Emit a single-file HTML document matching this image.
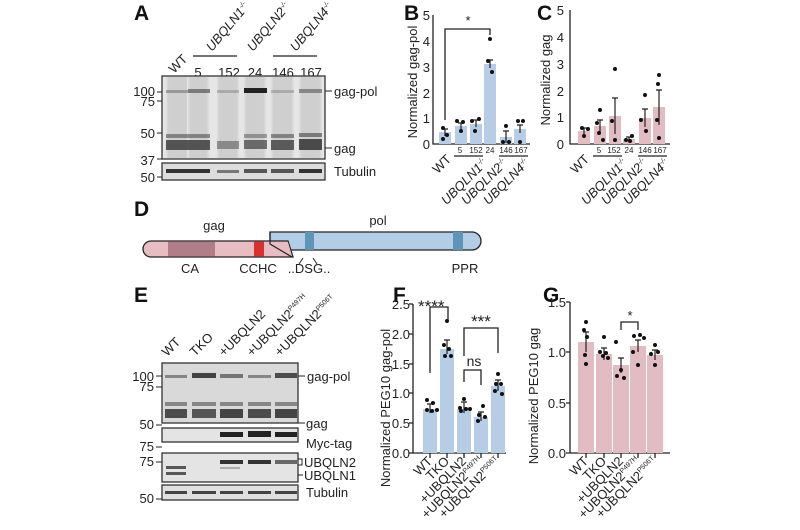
<!DOCTYPE html>
<html><head><meta charset="utf-8"><style>
html,body{margin:0;padding:0;background:#fff}
svg{display:block;font-family:"Liberation Sans",Arial,sans-serif}
.t{font-size:13px;fill:#222}
.s{font-size:8px;fill:#222}
.L{font-size:21px;font-weight:bold;fill:#111}
.ax{stroke:#222;stroke-width:1.3;fill:none}
.bb{fill:#b7cde5}
.pb{fill:#e2bcc3}
.eb{stroke:#222;stroke-width:1.2;fill:none}
.d{fill:#111}
</style></head><body>
<svg width="800" height="530" viewBox="0 0 800 530">
<defs>
<linearGradient id="lane" x1="0" x2="1"><stop offset="0" stop-color="#e8e8e8"/><stop offset="0.15" stop-color="#cfcfcf"/><stop offset="0.85" stop-color="#cfcfcf"/><stop offset="1" stop-color="#e8e8e8"/></linearGradient>
</defs>
<text class="L" x="134" y="20">A</text>
<text class="L" x="404" y="20">B</text>
<text class="L" x="537" y="20">C</text>
<text class="L" x="134" y="216">D</text>
<text class="L" x="134" y="302">E</text>
<text class="L" x="393" y="302">F</text>
<text class="L" x="543" y="302">G</text>

<!-- ===== A ===== -->
<g class="t">
<text transform="rotate(-45 174 74)" x="174" y="74">WT</text>
<text transform="rotate(-50 212 52)" x="212" y="52" font-style="italic">UBQLN1<tspan font-size="7" dy="-5">-/-</tspan></text>
<text transform="rotate(-50 253 52)" x="253" y="52" font-style="italic">UBQLN2<tspan font-size="7" dy="-5">-/-</tspan></text>
<text transform="rotate(-50 296 52)" x="296" y="52" font-style="italic">UBQLN4<tspan font-size="7" dy="-5">-/-</tspan></text>
<text x="198" y="77" text-anchor="middle">5</text>
<text x="229" y="77" text-anchor="middle">152</text>
<text x="255" y="77" text-anchor="middle">24</text>
<text x="283" y="77" text-anchor="middle">146</text>
<text x="311" y="77" text-anchor="middle">167</text>
</g>
<line x1="193" y1="56" x2="237" y2="56" stroke="#222" stroke-width="1.2"/>
<line x1="273" y1="56" x2="317" y2="56" stroke="#222" stroke-width="1.2"/>
<rect x="162" y="76" width="163" height="83" fill="#e6e6e6" stroke="#333" stroke-width="1.3"/>
<g fill="url(#lane)">
<rect x="165" y="77" width="25" height="81"/><rect x="187" y="77" width="23" height="81"/><rect x="216" y="77" width="24" height="81"/><rect x="243" y="77" width="24" height="81"/><rect x="270" y="77" width="25" height="81"/><rect x="298" y="77" width="25" height="81"/>
</g>
<g fill="#555">
<rect x="166" y="90" width="22" height="3" opacity=".45"/><rect x="188" y="89" width="22" height="4" opacity=".7"/><rect x="217" y="90" width="22" height="3" opacity=".3"/><rect x="244" y="88" width="23" height="5" fill="#222"/><rect x="271" y="90" width="23" height="3" opacity=".3"/><rect x="299" y="89" width="23" height="4" opacity=".6"/>
</g>
<g fill="#333">
<rect x="166" y="134" width="22" height="4" opacity=".5"/><rect x="188" y="134" width="22" height="4" opacity=".5"/><rect x="244" y="134" width="23" height="4" opacity=".4"/><rect x="271" y="134" width="23" height="4" opacity=".5"/><rect x="299" y="133" width="23" height="4" opacity=".55"/>
<rect x="166" y="140" width="22" height="10" opacity=".8"/><rect x="188" y="140" width="22" height="10" opacity=".8"/><rect x="217" y="141" width="22" height="8" opacity=".45"/><rect x="244" y="140" width="23" height="9" opacity=".65"/><rect x="271" y="140" width="23" height="10" opacity=".75"/><rect x="299" y="139" width="23" height="11" opacity=".85"/>
</g>
<rect x="162" y="163" width="163" height="17" fill="#ddd" stroke="#333" stroke-width="1.3"/>
<g fill="#333"><rect x="166" y="169" width="22" height="4"/><rect x="188" y="169" width="22" height="4"/><rect x="217" y="170" width="22" height="3" opacity=".6"/><rect x="244" y="169" width="23" height="4" opacity=".8"/><rect x="271" y="169" width="23" height="4" opacity=".8"/><rect x="299" y="169" width="23" height="4"/></g>
<g class="t" text-anchor="end" font-size="13">
<text x="155" y="96">100</text><text x="155" y="106">75</text><text x="155" y="138">50</text><text x="155" y="165">37</text><text x="155" y="182">50</text>
</g>
<g stroke="#222" stroke-width="1"><line x1="157" y1="92" x2="162" y2="92"/><line x1="157" y1="101" x2="162" y2="101"/><line x1="157" y1="133" x2="162" y2="133"/><line x1="157" y1="159" x2="162" y2="159"/><line x1="157" y1="177" x2="162" y2="177"/>
<line x1="325" y1="91" x2="332" y2="91"/><line x1="325" y1="148" x2="332" y2="148"/></g>
<g class="t"><text x="334" y="96">gag-pol</text><text x="334" y="153">gag</text><text x="334" y="176">Tubulin</text></g>

<!-- ===== B ===== -->
<text class="t" transform="rotate(-90 417 82)" x="417" y="82" text-anchor="middle" font-size="14">Normalized gag-pol</text>
<g class="t" text-anchor="end" font-size="14"><text x="430" y="20">5</text><text x="430" y="46">4</text><text x="430" y="72">3</text><text x="430" y="98">2</text><text x="430" y="123">1</text><text x="430" y="149">0</text></g>
<path class="ax" d="M433 15 V144 H530"/>
<rect class="bb" x="439" y="132" width="12" height="12"/><rect class="bb" x="455" y="126" width="12" height="18"/><rect class="bb" x="470" y="124" width="12" height="20"/><rect class="bb" x="484" y="64" width="12" height="80"/><rect class="bb" x="500" y="137" width="12" height="7"/><rect class="bb" x="514" y="129" width="12" height="15"/>
<path class="eb" d="M445 129v7m-3-7h6 M461 123v7m-3-7h6 M476 120v7m-3-7h6 M490 60v8m-3-8h6 M506 131v12m-3-12h6 M520 125v8m-3-8h6"/>
<g class="d"><circle cx="443" cy="128" r="2"/><circle cx="447" cy="135" r="2"/><circle cx="443" cy="139" r="2"/><circle cx="457" cy="121" r="2"/><circle cx="463" cy="122" r="2"/><circle cx="461" cy="131" r="2"/><circle cx="472" cy="121" r="2"/><circle cx="479" cy="119" r="2"/><circle cx="475" cy="131" r="2"/><circle cx="490" cy="39" r="2"/><circle cx="488" cy="61" r="2"/><circle cx="492" cy="72" r="2"/><circle cx="506" cy="126" r="2"/><circle cx="503" cy="142" r="2"/><circle cx="509" cy="142" r="2"/><circle cx="518" cy="121" r="2"/><circle cx="523" cy="121" r="2"/><circle cx="520" cy="142" r="2"/></g>
<path class="ax" d="M445 120V29H490V35"/><text class="t" x="468" y="25" text-anchor="middle" font-size="17">*</text>
<g class="s" text-anchor="middle"><text x="460" y="153">5</text><text x="476" y="153">152</text><text x="490" y="153">24</text><text x="506" y="153">146</text><text x="521" y="153">167</text></g>
<path class="ax" d="M454 156H483 M499 156H528" stroke-width="1"/>
<g class="t" font-style="italic" text-anchor="end" font-size="13">
<text transform="rotate(-45 452 160)" x="452" y="160" font-style="normal">WT</text>
<text transform="rotate(-45 488 164)" x="488" y="164">UBQLN1<tspan font-size="7" dy="-5">-/-</tspan></text>
<text transform="rotate(-45 508 164)" x="508" y="164">UBQLN2<tspan font-size="7" dy="-5">-/-</tspan></text>
<text transform="rotate(-45 530 164)" x="530" y="164">UBQLN4<tspan font-size="7" dy="-5">-/-</tspan></text>
</g>

<!-- ===== C ===== -->
<text class="t" transform="rotate(-90 550 80)" x="550" y="80" text-anchor="middle" font-size="14">Normalized gag</text>
<g class="t" text-anchor="end" font-size="14"><text x="564" y="15">5</text><text x="564" y="42">4</text><text x="564" y="69">3</text><text x="564" y="96">2</text><text x="564" y="122">1</text><text x="564" y="149">0</text></g>
<path class="ax" d="M570 10 V144 H670"/>
<rect class="pb" x="578" y="131" width="12" height="13"/><rect class="pb" x="594" y="126" width="12" height="18"/><rect class="pb" x="609" y="116" width="12" height="28"/><rect class="pb" x="623" y="139" width="12" height="5"/><rect class="pb" x="639" y="118" width="12" height="26"/><rect class="pb" x="653" y="107" width="12" height="37"/>
<path class="eb" d="M584 128v7m-3-7h6 M600 120v12m-3-12h6 M615 98v36m-3-36h6 M629 137v4m-3-4h6 M645 109v18m-3-18h6 M659 90v35m-3-35h6"/>
<g class="d"><circle cx="582" cy="128" r="2"/><circle cx="588" cy="129" r="2"/><circle cx="584" cy="136" r="2"/><circle cx="600" cy="110" r="2"/><circle cx="597" cy="123" r="2"/><circle cx="599" cy="133" r="2"/><circle cx="603" cy="140" r="2"/><circle cx="615" cy="69" r="2"/><circle cx="612" cy="121" r="2"/><circle cx="615" cy="140" r="2"/><circle cx="626" cy="140" r="2"/><circle cx="632" cy="136" r="2"/><circle cx="630" cy="141" r="2"/><circle cx="645" cy="95" r="2"/><circle cx="641" cy="120" r="2"/><circle cx="646" cy="131" r="2"/><circle cx="659" cy="75" r="2"/><circle cx="658" cy="84" r="2"/><circle cx="657" cy="120" r="2"/><circle cx="659" cy="138" r="2"/></g>
<g class="s" text-anchor="middle"><text x="599" y="153">5</text><text x="614" y="153">152</text><text x="629" y="153">24</text><text x="645" y="153">146</text><text x="660" y="153">167</text></g>
<path class="ax" d="M593 156H622 M638 156H667" stroke-width="1"/>
<g class="t" font-style="italic" text-anchor="end" font-size="13">
<text transform="rotate(-45 590 160)" x="590" y="160" font-style="normal">WT</text>
<text transform="rotate(-45 628 164)" x="628" y="164">UBQLN1<tspan font-size="7" dy="-5">-/-</tspan></text>
<text transform="rotate(-45 648 164)" x="648" y="164">UBQLN2<tspan font-size="7" dy="-5">-/-</tspan></text>
<text transform="rotate(-45 670 164)" x="670" y="164">UBQLN4<tspan font-size="7" dy="-5">-/-</tspan></text>
</g>

<!-- ===== D ===== -->
<path d="M270 232 H472 a9 9 0 0 1 0 18 H290 L270 250 Z" fill="#b3cde6" stroke="#222" stroke-width="1.3"/>
<rect x="305" y="232" width="9" height="18" fill="#5f95b5"/>
<rect x="453" y="232" width="10" height="18" fill="#5f95b5"/>
<path d="M151 241 H288 L293 257 H151 a8 8 0 0 1 0-16Z" fill="#e8bcc3" stroke="#222" stroke-width="1.3"/>
<rect x="168" y="241.7" width="47" height="14.6" fill="#b07e89"/>
<rect x="254" y="241.7" width="10" height="14.6" fill="#d8312f"/>
<path d="M264 242 L288 242 L292 256 L264 256Z" fill="#e8bcc3"/>
<path d="M270 232 L270 244 L292 257" fill="none" stroke="#222" stroke-width="1.2"/>
<path d="M303 258 L299 264 M313 258 L317 264" stroke="#222" stroke-width="1"/>
<g class="t" text-anchor="middle" font-size="14"><text x="214" y="230">gag</text><text x="378" y="225">pol</text><text x="190" y="273">CA</text><text x="258" y="273">CCHC</text><text x="309" y="273">..DSG..</text><text x="465" y="273">PPR</text></g>

<!-- ===== E ===== -->
<g class="t" font-size="13">
<text transform="rotate(-45 167 357)" x="167" y="357">WT</text>
<text transform="rotate(-45 195 357)" x="195" y="357">TKO</text>
<text transform="rotate(-45 224 357)" x="224" y="357">+UBQLN2</text>
<text transform="rotate(-45 252 357)" x="252" y="357">+UBQLN2<tspan font-size="7" dy="-5">P497H</tspan></text>
<text transform="rotate(-45 280 357)" x="280" y="357">+UBQLN2<tspan font-size="7" dy="-5">P506T</tspan></text>
</g>
<rect x="162" y="363" width="136" height="60" fill="#d9d9d9" stroke="#333" stroke-width="1.3"/>
<g fill="#333">
<rect x="165" y="375" width="22" height="3" opacity=".5"/><rect x="192" y="373" width="24" height="5" opacity=".9"/><rect x="220" y="374" width="23" height="4" opacity=".6"/><rect x="248" y="375" width="23" height="3" opacity=".5"/><rect x="275" y="373" width="22" height="5" opacity=".85"/>
<rect x="165" y="402" width="22" height="4" opacity=".5"/><rect x="192" y="402" width="24" height="4" opacity=".5"/><rect x="220" y="402" width="23" height="4" opacity=".5"/><rect x="248" y="402" width="23" height="4" opacity=".5"/><rect x="275" y="402" width="22" height="4" opacity=".5"/>
<rect x="165" y="409" width="22" height="9" opacity=".85"/><rect x="192" y="409" width="24" height="9" opacity=".8"/><rect x="220" y="409" width="23" height="9" opacity=".9"/><rect x="248" y="409" width="23" height="9" opacity=".85"/><rect x="275" y="409" width="22" height="9" opacity=".9"/>
</g>
<rect x="162" y="428" width="136" height="14" fill="#e4e4e4" stroke="#333" stroke-width="1.3"/>
<g fill="#222"><rect x="220" y="432" width="23" height="5"/><rect x="248" y="431" width="23" height="6"/><rect x="275" y="432" width="22" height="5"/></g>
<rect x="162" y="453" width="136" height="29" fill="#e4e4e4" stroke="#333" stroke-width="1.3"/>
<g fill="#333"><rect x="220" y="460" width="23" height="4"/><rect x="248" y="460" width="23" height="4"/><rect x="275" y="460" width="22" height="4" opacity=".7"/><rect x="166" y="466" width="20" height="3" opacity=".8"/><rect x="166" y="472" width="20" height="3" opacity=".8"/><rect x="220" y="467" width="20" height="2" opacity=".3"/></g>
<rect x="162" y="485" width="136" height="15" fill="#e0e0e0" stroke="#333" stroke-width="1.3"/>
<g fill="#444"><rect x="165" y="491" width="22" height="3"/><rect x="192" y="491" width="24" height="3"/><rect x="220" y="491" width="23" height="3"/><rect x="248" y="491" width="23" height="3"/><rect x="275" y="491" width="22" height="3"/></g>
<g class="t" text-anchor="end" font-size="13"><text x="154" y="381">100</text><text x="154" y="391">75</text><text x="154" y="429">50</text><text x="154" y="451">75</text><text x="154" y="466">75</text><text x="154" y="503">50</text></g>
<g stroke="#222" stroke-width="1"><line x1="156" y1="376" x2="162" y2="376"/><line x1="156" y1="387" x2="162" y2="387"/><line x1="156" y1="425" x2="162" y2="425"/><line x1="156" y1="447" x2="162" y2="447"/><line x1="156" y1="462" x2="162" y2="462"/><line x1="156" y1="499" x2="162" y2="499"/>
<line x1="298" y1="376" x2="305" y2="376"/><line x1="298" y1="423" x2="305" y2="423"/><path d="M298 459h4v6h-4 M298 475h5" fill="none"/></g>
<g class="t" font-size="13"><text x="307" y="381">gag-pol</text><text x="306" y="428">gag</text><text x="306" y="448">Myc-tag</text><text x="304" y="467">UBQLN2</text><text x="304" y="480">UBQLN1</text><text x="306" y="497">Tubulin</text></g>

<!-- ===== F ===== -->
<text class="t" transform="rotate(-90 390 408)" x="390" y="408" text-anchor="middle" font-size="14">Normalized PEG10 gag-pol</text>
<g class="t" text-anchor="end" font-size="14"><text x="410" y="309">2.5</text><text x="410" y="339">2.0</text><text x="410" y="369">1.5</text><text x="410" y="398">1.0</text><text x="410" y="428">0.5</text><text x="410" y="458">0.0</text></g>
<path class="ax" d="M413 304V453H506 M409 304H413 M409 334H413 M409 364H413 M409 393H413 M409 423H413 M409 453H413 M430 453v5 M447 453v5 M464 453v5 M481 453v5 M498 453v5"/>
<rect class="bb" x="423" y="409" width="14" height="44"/><rect class="bb" x="440" y="349" width="14" height="104"/><rect class="bb" x="457" y="409" width="14" height="44"/><rect class="bb" x="474" y="417" width="14" height="36"/><rect class="bb" x="491" y="386" width="14" height="67"/>
<path class="eb" d="M430 404v9m-3-9h6 M447 340v14m-3-14h6 M464 402v11m-3-11h6 M481 412v9m-3-9h6 M498 380v11m-3-11h6"/>
<g class="d"><circle cx="427" cy="400" r="2"/><circle cx="433" cy="403" r="2"/><circle cx="427" cy="410" r="2"/><circle cx="432" cy="411" r="2"/><circle cx="437" cy="410" r="2"/><circle cx="447" cy="321" r="2"/><circle cx="444" cy="345" r="2"/><circle cx="449" cy="349" r="2"/><circle cx="445" cy="356" r="2"/><circle cx="451" cy="356" r="2"/><circle cx="464" cy="399" r="2"/><circle cx="460" cy="408" r="2"/><circle cx="466" cy="409" r="2"/><circle cx="461" cy="411" r="2"/><circle cx="470" cy="409" r="2"/><circle cx="483" cy="406" r="2"/><circle cx="479" cy="415" r="2"/><circle cx="485" cy="417" r="2"/><circle cx="478" cy="421" r="2"/><circle cx="498" cy="374" r="2"/><circle cx="496" cy="384" r="2"/><circle cx="501" cy="384" r="2"/><circle cx="495" cy="391" r="2"/><circle cx="502" cy="394" r="2"/></g>
<path class="ax" d="M430 373V307H448V320 M464 356V328H498V353 M464 382V370H481V385"/>
<g class="t" text-anchor="middle"><text x="418" y="312" font-size="17" text-anchor="start">****</text><text x="481" y="327" font-size="17">***</text><text x="474" y="366" font-size="14">ns</text></g>
<g class="t" font-size="13" text-anchor="end">
<text transform="rotate(-45 433 462)" x="433" y="462">WT</text>
<text transform="rotate(-45 450 462)" x="450" y="462">TKO</text>
<text transform="rotate(-45 467 462)" x="467" y="462">+UBQLN2</text>
<text transform="rotate(-45 484 462)" x="484" y="462">+UBQLN2<tspan font-size="7" dy="-5">P497H</tspan></text>
<text transform="rotate(-45 501 462)" x="501" y="462">+UBQLN2<tspan font-size="7" dy="-5">P506T</tspan></text>
</g>

<!-- ===== G ===== -->
<text class="t" transform="rotate(-90 538 396)" x="538" y="396" text-anchor="middle" font-size="14">Normalized PEG10 gag</text>
<g class="t" text-anchor="end" font-size="14"><text x="566" y="307">1.5</text><text x="566" y="357">1.0</text><text x="566" y="408">0.5</text><text x="566" y="458">0.0</text></g>
<path class="ax" d="M570 302V453H670 M566 302H570 M566 352H570 M566 403H570 M566 453H570 M586 453v5 M604 453v5 M621 453v5 M638 453v5 M655 453v5"/>
<rect class="pb" x="578" y="342" width="16" height="111"/><rect class="pb" x="596" y="354" width="16" height="99"/><rect class="pb" x="613" y="365" width="16" height="88"/><rect class="pb" x="630" y="346" width="16" height="107"/><rect class="pb" x="647" y="355" width="16" height="98"/>
<path class="eb" d="M586 332v20m-3-20h6 M604 348v12m-3-12h6 M621 358v15m-3-15h6 M638 340v12m-3-12h6 M655 350v10m-3-10h6"/>
<g class="d"><circle cx="586" cy="322" r="2"/><circle cx="584" cy="330" r="2"/><circle cx="587" cy="337" r="2"/><circle cx="585" cy="355" r="2"/><circle cx="586" cy="364" r="2"/><circle cx="604" cy="337" r="2"/><circle cx="600" cy="352" r="2"/><circle cx="606" cy="353" r="2"/><circle cx="603" cy="356" r="2"/><circle cx="608" cy="358" r="2"/><circle cx="616" cy="342" r="2"/><circle cx="621" cy="370" r="2"/><circle cx="617" cy="376" r="2"/><circle cx="624" cy="378" r="2"/><circle cx="634" cy="336" r="2"/><circle cx="640" cy="335" r="2"/><circle cx="644" cy="338" r="2"/><circle cx="633" cy="352" r="2"/><circle cx="638" cy="365" r="2"/><circle cx="655" cy="345" r="2"/><circle cx="651" cy="354" r="2"/><circle cx="658" cy="352" r="2"/><circle cx="655" cy="365" r="2"/></g>
<path class="ax" d="M621 330V322H638V330"/>
<text class="t" x="630" y="320" text-anchor="middle" font-size="17">*</text>
<g class="t" font-size="13" text-anchor="end">
<text transform="rotate(-45 589 462)" x="589" y="462">WT</text>
<text transform="rotate(-45 607 462)" x="607" y="462">TKO</text>
<text transform="rotate(-45 624 462)" x="624" y="462">+UBQLN2</text>
<text transform="rotate(-45 641 462)" x="641" y="462">+UBQLN2<tspan font-size="7" dy="-5">P497H</tspan></text>
<text transform="rotate(-45 658 462)" x="658" y="462">+UBQLN2<tspan font-size="7" dy="-5">P506T</tspan></text>
</g>
</svg>
</body></html>
